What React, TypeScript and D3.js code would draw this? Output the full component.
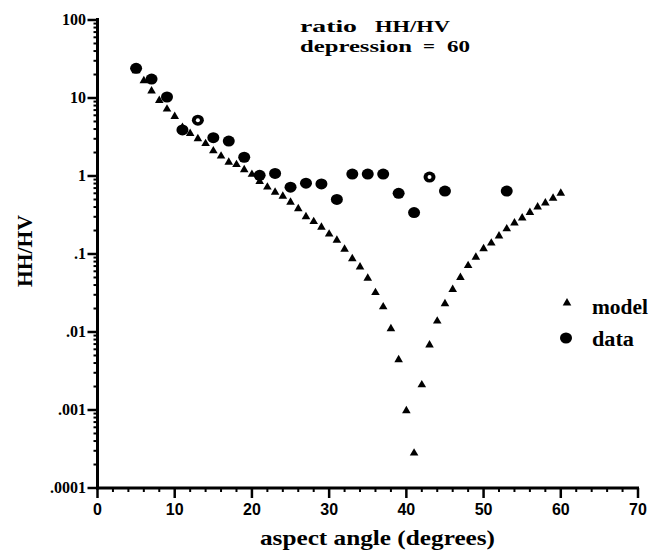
import React from "react";
import * as d3 from "d3";

const xTicks = [0, 10, 20, 30, 40, 50, 60, 70];
const yTicks = [100, 10, 1, 0.1, 0.01, 0.001, 0.0001];
const yTickLabels = ["100", "10", "1", ".1", ".01", ".001", ".0001"];

const modelAngles = [
  5, 6, 7, 8, 9, 10, 11, 12, 13, 14, 15, 16, 17, 18, 19, 20, 21, 22, 23, 24, 25, 26, 27, 28, 29, 30,
  31, 32, 33, 34, 35, 36, 37, 38, 39, 40, 41, 42, 43, 44, 45, 46, 47, 48, 49, 50, 51, 52, 53, 54, 55,
  56, 57, 58, 59, 60,
];
const modelRatio = [
  22.4, 16.6, 12.3, 9.3, 7.2, 5.8, 4.2, 3.5, 3.0, 2.6, 2.1, 1.8, 1.5, 1.4, 1.2, 1.05, 0.85, 0.72, 0.62,
  0.55, 0.46, 0.38, 0.3, 0.26, 0.22, 0.18, 0.15, 0.115, 0.087, 0.068, 0.049, 0.032, 0.021, 0.011,
  0.0044, 0.00098, 0.00028, 0.0021, 0.0068, 0.0138, 0.023, 0.035, 0.05, 0.071, 0.091, 0.117, 0.138,
  0.17, 0.21, 0.25, 0.29, 0.34, 0.4, 0.45, 0.52, 0.6,
];

const dataAngles = [5, 7, 9, 11, 13, 15, 17, 19, 21, 23, 25, 27, 29, 31, 33, 35, 37, 39, 41, 43, 45, 53];
const dataRatio = [
  24, 17.5, 10.3, 3.9, 5.2, 3.1, 2.8, 1.74, 1.02, 1.08, 0.72, 0.81, 0.79, 0.5, 1.06, 1.06, 1.06, 0.6,
  0.34, 0.97, 0.64, 0.64,
];
const hollowAngles = [13, 43];

export default function App() {
  const W = 651;
  const H = 554;
  const x = d3.scaleLinear().domain([0, 70]).range([97.5, 638]);
  const y = d3.scaleLog().domain([0.0001, 100]).range([488, 20]);
  const tri = d3.symbol().type(d3.symbolTriangle).size(32)() as string;

  const minorY: number[] = [];
  for (let e = -4; e < 2; e++) for (let m = 2; m <= 9; m++) minorY.push(m * Math.pow(10, e));
  const minorX = d3.range(2, 70, 2).filter((v) => v % 10 !== 0);

  const serif = "'Liberation Serif', 'Times New Roman', serif";
  const sans = "'Liberation Sans', Arial, sans-serif";

  return (
    <svg
      width={W}
      height={H}
      style={{ position: "absolute", left: 0, top: 0, background: "#fff" }}
    >
      <rect x={0} y={0} width={W} height={H} fill="#fff" />
      {/* axes */}
      <line x1={x(0)} x2={x(0)} y1={y(100) - 2} y2={y(0.0001) + 1.5} stroke="#000" strokeWidth={3} />
      <line x1={x(0) - 1.5} x2={x(70) + 1} y1={y(0.0001)} y2={y(0.0001)} stroke="#000" strokeWidth={3} />
      {/* y ticks */}
      {yTicks.map((t, i) => (
        <g key={"yt" + i}>
          <line x1={x(0) - 10} x2={x(0)} y1={y(t)} y2={y(t)} stroke="#000" strokeWidth={2.5} />
          <text
            x={86}
            y={y(t) + 5}
            textAnchor="end"
            fontFamily={serif}
            fontWeight="bold"
            fontSize={16}
          >
            {yTickLabels[i]}
          </text>
        </g>
      ))}
      {minorY.map((t, i) => (
        <line key={"ym" + i} x1={x(0) - 4} x2={x(0)} y1={y(t)} y2={y(t)} stroke="#000" strokeWidth={2} />
      ))}
      {/* x ticks */}
      {xTicks.map((t, i) => (
        <g key={"xt" + i}>
          <line x1={x(t)} x2={x(t)} y1={y(0.0001)} y2={y(0.0001) + 10} stroke="#000" strokeWidth={2.5} />
          <text
            x={x(t)}
            y={515}
            textAnchor="middle"
            fontFamily={sans}
            fontWeight="bold"
            fontSize={16}
          >
            {t}
          </text>
        </g>
      ))}
      {minorX.map((t, i) => (
        <line key={"xm" + i} x1={x(t)} x2={x(t)} y1={y(0.0001)} y2={y(0.0001) + 4} stroke="#000" strokeWidth={2} />
      ))}
      {/* model */}
      {modelAngles.map((a, i) => (
        <path key={"m" + i} d={tri} transform={`translate(${x(a)},${y(modelRatio[i])})`} fill="#000" />
      ))}
      {/* data */}
      {dataAngles.map((a, i) => (
        <g key={"d" + i}>
          <ellipse cx={x(a)} cy={y(dataRatio[i])} rx={6} ry={5.5} fill="#000" />
          {hollowAngles.includes(a) && (
            <circle cx={x(a)} cy={y(dataRatio[i])} r={2} fill="#fff" />
          )}
        </g>
      ))}
      {/* title */}
      <g fontFamily={serif} fontWeight="bold" fontSize={17}>
        <text x={300} y={32} textLength={57} lengthAdjust="spacingAndGlyphs">ratio</text>
        <text x={375} y={32} textLength={75} lengthAdjust="spacingAndGlyphs">HH/HV</text>
        <text x={300} y={52} textLength={112} lengthAdjust="spacingAndGlyphs">depression</text>
        <text x={423} y={52} textLength={12} lengthAdjust="spacingAndGlyphs">=</text>
        <text x={447} y={52} textLength={23} lengthAdjust="spacingAndGlyphs">60</text>
      </g>
      {/* legend */}
      <path d={tri} transform={`translate(567,303)`} fill="#000" />
      <ellipse cx={566} cy={338} rx={6} ry={5.5} fill="#000" />
      <g fontFamily={serif} fontWeight="bold" fontSize={20}>
        <text x={592} y={314} textLength={56} lengthAdjust="spacingAndGlyphs">model</text>
        <text x={592} y={346} textLength={42} lengthAdjust="spacingAndGlyphs">data</text>
      </g>
      {/* axis labels */}
      <text
        x={260}
        y={545}
        fontFamily={serif}
        fontWeight="bold"
        fontSize={21}
        textLength={235}
        lengthAdjust="spacingAndGlyphs"
      >
        aspect  angle  (degrees)
      </text>
      <text
        transform="translate(32,251) rotate(-90)"
        textAnchor="middle"
        fontFamily={serif}
        fontWeight="bold"
        fontSize={22}
        textLength={72}
        lengthAdjust="spacingAndGlyphs"
      >
        HH/HV
      </text>
    </svg>
  );
}
